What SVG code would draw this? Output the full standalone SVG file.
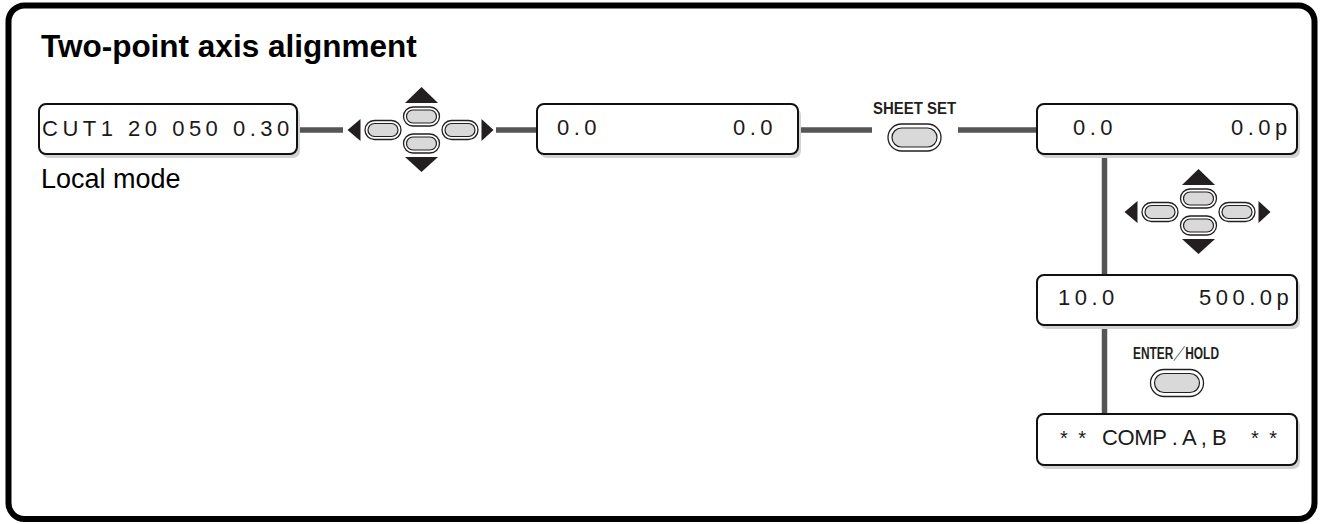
<svg xmlns="http://www.w3.org/2000/svg" xmlns:xlink="http://www.w3.org/1999/xlink" width="1323" height="524" viewBox="0 0 1323 524">
<style>
.frame{fill:#fff;stroke:#000;stroke-width:6}
.title{font-family:"Liberation Sans",Arial,sans-serif;font-weight:bold;font-size:31.5px;fill:#000}
.label{font-family:"Liberation Sans",Arial,sans-serif;font-size:27px;fill:#000}
.disp{fill:#fff;stroke:#111;stroke-width:2}
.shadow{fill:#d2d2d2}
.dt{font-family:"Liberation Sans",Arial,sans-serif;font-size:22px;letter-spacing:4.5px;fill:#1a1a1a}
.key{font-family:"Liberation Sans",Arial,"Noto Sans CJK JP",sans-serif;font-weight:bold;font-size:16px;fill:#231f20}
.conn{stroke:#555;stroke-width:5.5;fill:none}
.bo{fill:#fff;stroke:#231f20;stroke-width:1.3}
.bi{fill:#d9d9d9;stroke:#231f20;stroke-width:1.2}
.tri{fill:#231f20}
</style>
<defs>
<g id="kb"><rect class="bo" x="-18" y="-9.5" width="36" height="19" rx="9.5"/><rect class="bi" x="-15" y="-6.5" width="30" height="13" rx="6.5"/></g>
<g id="kbL"><rect class="bo" x="-26.5" y="-13.5" width="53" height="27" rx="13.5"/><rect class="bi" x="-22.5" y="-9.5" width="45" height="19" rx="9.5"/></g>
<g id="pad">
<polygon class="tri" points="-74,0 -61,-11 -61,11"/>
<polygon class="tri" points="72,0 60,-11 60,11"/>
<polygon class="tri" points="0,-43 -16.5,-27 16.5,-27"/>
<polygon class="tri" points="0,42 -16.5,27 16.5,27"/>
<use xlink:href="#kb" x="-38.5" y="0"/>
<use xlink:href="#kb" x="38.5" y="0"/>
<use xlink:href="#kb" x="0" y="-13.5"/>
<use xlink:href="#kb" x="0" y="13.5"/>
</g>
</defs>
<rect class="frame" x="8.5" y="5.5" width="1306" height="513.5" rx="16"/>
<text class="title" x="41" y="57">Two-point axis alignment</text>

<g id="connectors">
<line class="conn" x1="297" y1="130" x2="343" y2="130"/>
<line class="conn" x1="496" y1="130" x2="537" y2="130"/>
<line class="conn" x1="798" y1="130" x2="872" y2="130"/>
<line class="conn" x1="958" y1="130" x2="1037" y2="130"/>
<line class="conn" x1="1104.5" y1="154" x2="1104.5" y2="275"/>
<line class="conn" x1="1104.5" y1="325" x2="1104.5" y2="414"/>
</g>

<g id="display-local">
<rect class="shadow" x="42" y="108" width="258" height="50" rx="7"/>
<rect class="disp" x="39" y="104" width="258" height="50" rx="7"/>
<text class="dt" x="42" y="136">CUT1 20 050 0.30</text>
<text class="label" x="41" y="188">Local mode</text>
</g>

<g id="pad-1"><use xlink:href="#pad" x="421.5" y="130"/></g>

<g id="display-2">
<rect class="shadow" x="540" y="108" width="261" height="50" rx="7"/>
<rect class="disp" x="537" y="104" width="261" height="50" rx="7"/>
<text class="dt" x="557" y="135">0.0</text>
<text class="dt" x="733" y="135">0.0</text>
</g>

<g id="sheet-set">
<text class="key" x="873" y="114" textLength="83" lengthAdjust="spacingAndGlyphs">SHEET SET</text>
<use xlink:href="#kbL" x="914.5" y="137.5"/>
</g>

<g id="display-3">
<rect class="shadow" x="1040" y="108" width="260" height="50" rx="7"/>
<rect class="disp" x="1037" y="104" width="260" height="50" rx="7"/>
<text class="dt" x="1073" y="135">0.0</text>
<text class="dt" x="1231" y="135">0.0p</text>
</g>

<g id="pad-2"><use xlink:href="#pad" x="1198.5" y="212"/></g>

<g id="display-4">
<rect class="shadow" x="1040" y="279" width="260" height="50" rx="7"/>
<rect class="disp" x="1037" y="275" width="260" height="50" rx="7"/>
<text class="dt" x="1058" y="305">10.0</text>
<text class="dt" x="1199" y="305">500.0p</text>
</g>

<g id="enter-hold">
<text class="key" x="1133" y="359" textLength="86" lengthAdjust="spacingAndGlyphs">ENTER／HOLD</text>
<use xlink:href="#kbL" x="1177" y="383"/>
</g>

<g id="display-5">
<rect class="shadow" x="1040" y="418" width="260" height="51" rx="7"/>
<rect class="disp" x="1037" y="414" width="260" height="51" rx="7"/>
<text class="dt" y="445"><tspan x="1060" style="font-size:20px;letter-spacing:2.5px">* *</tspan><tspan x="1102" style="font-size:22px;letter-spacing:-0.4px">COMP . A , B</tspan><tspan x="1251" style="font-size:20px;letter-spacing:2.5px">* *</tspan></text>
</g>
</svg>
